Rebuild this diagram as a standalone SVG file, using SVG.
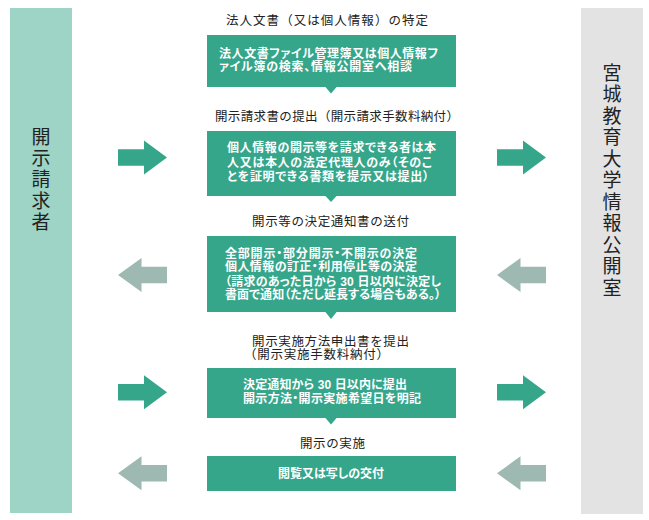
<svg xmlns="http://www.w3.org/2000/svg" width="649" height="520" viewBox="0 0 649 520">
<style>
.box{fill:#36a68b}
.bt{font-family:"Liberation Sans","Noto Sans CJK JP",sans-serif;font-size:12px;font-weight:bold;fill:#ffffff;font-feature-settings:"palt" 1}
.tt{font-family:"Liberation Sans","Noto Sans CJK JP",sans-serif;font-size:12.5px;fill:#222222}
.side{font-family:"Liberation Sans","Noto Sans CJK JP",sans-serif;font-size:19px;fill:#222222;text-anchor:middle}
.go{fill:#36a68b}
.back{fill:#9eb9b1}
.ptr{fill:#36a68b}
</style>
<defs>
<path id="arrowR" d="M0,-8.3 H26 V-17 L49,0 L26,17 V8.3 H0 Z"/>
<path id="arrowL" d="M49,-8.3 H23.5 V-17 L0,0 L23.5,17 V8.3 H49 Z"/>
</defs>
<rect width="649" height="520" fill="#ffffff"/>

<g id="requester">
<rect x="10" y="8" width="62" height="505" fill="#9dd4c6"/>
<text class="side"><tspan x="41" y="143.5">開</tspan><tspan x="41" y="164.9">示</tspan><tspan x="41" y="186.3">請</tspan><tspan x="41" y="207.7">求</tspan><tspan x="41" y="229.1">者</tspan></text>
</g>

<g id="office">
<rect x="581" y="8" width="62" height="506" fill="#e3e3e3"/>
<text class="side"><tspan x="612" y="79.9">宮</tspan><tspan x="612" y="101.4">城</tspan><tspan x="612" y="122.9">教</tspan><tspan x="612" y="144.4">育</tspan><tspan x="612" y="165.9">大</tspan><tspan x="612" y="187.4">学</tspan><tspan x="612" y="208.9">情</tspan><tspan x="612" y="230.4">報</tspan><tspan x="612" y="251.9">公</tspan><tspan x="612" y="273.4">開</tspan><tspan x="612" y="294.9">室</tspan></text>
</g>

<g id="step1">
<text class="tt" x="226" y="25.4" textLength="202" lengthAdjust="spacing">法人文書（又は個人情報）の特定</text>
<rect class="box" x="207" y="35" width="249" height="52"/>
<text class="bt" x="219" y="57.6" textLength="219" lengthAdjust="spacing">法人文書ファイル管理簿又は個人情報フ</text>
<text class="bt" x="219" y="71.4" textLength="193" lengthAdjust="spacing">ァイル簿の検索、情報公開室へ相談</text>
</g>

<g id="step2">
<text class="tt" x="215" y="121.4" textLength="244" lengthAdjust="spacing">開示請求書の提出（開示請求手数料納付）</text>
<rect class="box" x="207" y="131" width="249" height="65"/>
<text class="bt" x="227" y="152.3" textLength="209" lengthAdjust="spacing">個人情報の開示等を請求できる者は本</text>
<text class="bt" x="227" y="166.6" textLength="205" lengthAdjust="spacing">人又は本人の法定代理人のみ（そのこ</text>
<text class="bt" x="227" y="180.6" textLength="202" lengthAdjust="spacing">とを証明できる書類を提示又は提出）</text>
</g>

<g id="step3">
<text class="tt" x="252" y="226.4" textLength="157" lengthAdjust="spacing">開示等の決定通知書の送付</text>
<rect class="box" x="207" y="236" width="249" height="76"/>
<text class="bt" x="225" y="257.6" textLength="192" lengthAdjust="spacing">全部開示・部分開示・不開示の決定</text>
<text class="bt" x="225" y="271" textLength="192" lengthAdjust="spacing">個人情報の訂正・利用停止等の決定</text>
<text class="bt" x="225" y="285.6" textLength="216" lengthAdjust="spacing">（請求のあった日から 30 日以内に決定し</text>
<text class="bt" x="225" y="299.3" textLength="216" lengthAdjust="spacing">書面で通知（ただし延長する場合もある。）</text>
</g>

<g id="step4">
<text class="tt" x="252" y="346" textLength="157" lengthAdjust="spacing">開示実施方法申出書を提出</text>
<text class="tt" x="244" y="359.4" textLength="145" lengthAdjust="spacing">（開示実施手数料納付）</text>
<rect class="box" x="207" y="368" width="249" height="50"/>
<text class="bt" x="243" y="389" textLength="164" lengthAdjust="spacing">決定通知から 30 日以内に提出</text>
<text class="bt" x="243" y="403" textLength="178" lengthAdjust="spacing">開示方法・開示実施希望日を明記</text>
</g>

<g id="step5">
<text class="tt" x="300" y="448" textLength="65" lengthAdjust="spacing">開示の実施</text>
<rect class="box" x="207" y="456" width="249" height="35"/>
<text class="bt" x="278" y="478" textLength="106" lengthAdjust="spacing">閲覧又は写しの交付</text>
</g>

<g id="connectors">
<polygon class="ptr" points="325,86.5 337,86.5 331,93.5"/>
<polygon class="ptr" points="325,195.5 337,195.5 331,202"/>
<polygon class="ptr" points="325,311.5 337,311.5 331,319"/>
<polygon class="ptr" points="325,417.5 337,417.5 331,424.5"/>
<use href="#arrowR" class="go" transform="translate(118,157.5)"/>
<use href="#arrowR" class="go" transform="translate(497,157.5)"/>
<use href="#arrowL" class="back" transform="translate(118,275)"/>
<use href="#arrowL" class="back" transform="translate(497,275)"/>
<use href="#arrowR" class="go" transform="translate(118,392.3)"/>
<use href="#arrowR" class="go" transform="translate(497,392.3)"/>
<use href="#arrowL" class="back" transform="translate(118,473.3)"/>
<use href="#arrowL" class="back" transform="translate(497,473.3)"/>
</g>
</svg>
